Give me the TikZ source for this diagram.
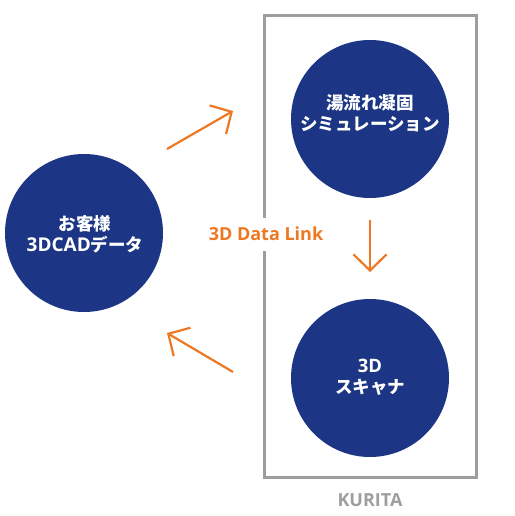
\documentclass[tikz,border=0pt]{standalone}
\usepackage{fontspec}
\setmainfont{Noto Sans CJK JP}
\newfontfamily\lat{Open Sans}
\usetikzlibrary{arrows.meta}
\definecolor{navy}{RGB}{28,53,132}
\definecolor{orng}{RGB}{238,120,34}
\definecolor{boxgray}{RGB}{158,158,158}
\tikzset{
  circ/.style={circle, fill=navy, minimum size=158pt, inner sep=0pt},
  ctext/.style={text=white, font=\bfseries\fontsize{17.5}{21}\selectfont, align=center, inner sep=0pt},
  arr/.style={orng, line width=2.2pt, -{Straight Barb[length=16pt,width=33pt]}},
  frame/.style={boxgray, line width=3pt},
}
\begin{document}
\begin{tikzpicture}[x=1pt,y=-1pt]
\useasboundingbox (0,0) rectangle (514,516);
\draw[frame] (264,16) rectangle (476,477);
\node[circ] (cad) at (84,233) {};
\node[ctext] (cadt) at (85,234) {お客様\\{\lat\bfseries\fontsize{19}{21}\selectfont 3DCAD}データ};
\node[circ] (sim) at (370,119) {};
\node[ctext] (simt) at (370,113) {湯流れ凝固\\シミュレーション};
\node[circ] (scan) at (370,378) {};
\node[ctext] (scant) at (370,377) {{\lat\bfseries\fontsize{18.5}{21}\selectfont 3D}\\スキャナ};
\node[fill=white, text=orng, font=\lat\bfseries\fontsize{18}{20}\selectfont,
  inner xsep=2pt, inner ysep=10pt, text height=13pt, text depth=0pt] (link) at (266,234) {3D Data Link};
\node[text=boxgray, font=\lat\bfseries\fontsize{18}{22}\selectfont] (kurita) at (370,500) {KURITA};
\coordinate (a1s) at (167,149);
\coordinate (a1e) at (233,111);
\coordinate (a2s) at (370,220);
\coordinate (a2e) at (370,272);
\coordinate (a3s) at (233,372);
\coordinate (a3e) at (167,333);
\draw[arr] (a1s) -- (a1e);
\draw[arr] (a2s) -- (a2e);
\draw[arr] (a3s) -- (a3e);
\end{tikzpicture}
\end{document}
